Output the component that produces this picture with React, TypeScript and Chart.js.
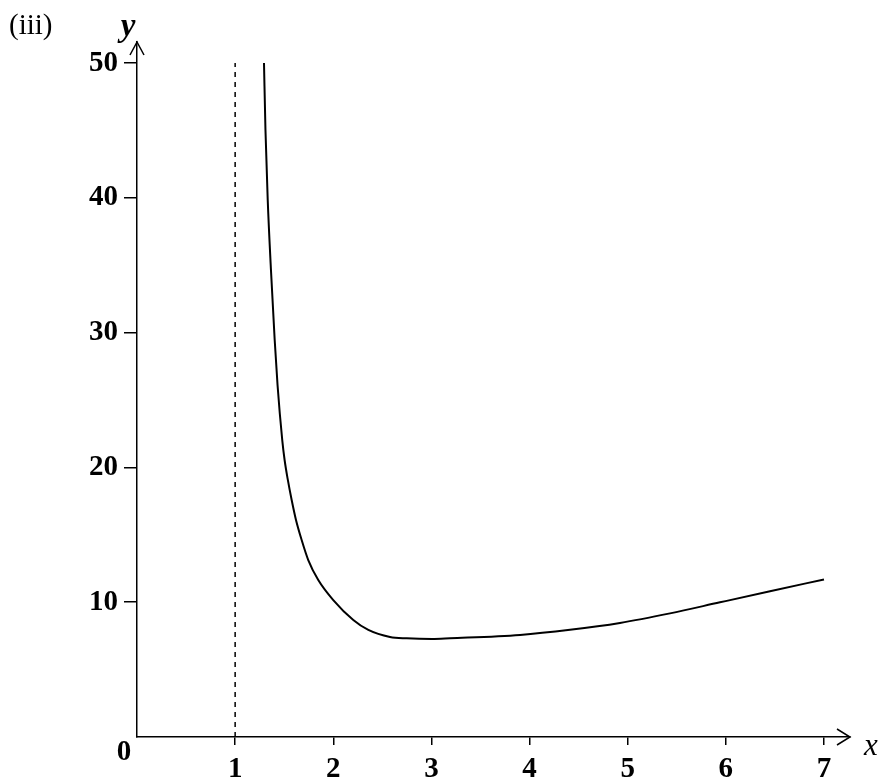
import React, { useEffect, useRef } from "react";
import { Chart, registerables } from "chart.js";

Chart.register(...registerables);

// Curve points
const curveX = [1.294, 1.309, 1.332, 1.365, 1.403, 1.432, 1.48, 1.504, 1.537, 1.576, 1.62, 1.678, 1.745, 1.847, 2.0, 2.204, 2.357, 2.578, 2.748, 3.006, 3.189, 3.903, 4.412, 4.921, 5.431, 5.94, 6.45, 7.0];
const curveY = [50, 45.03, 39.84, 34.64, 29.45, 26.11, 22.03, 20.55, 19.07, 17.58, 16.1, 14.61, 13.13, 11.65, 10.16, 8.68, 7.94, 7.42, 7.32, 7.27, 7.32, 7.57, 7.95, 8.46, 9.17, 9.99, 10.81, 11.69];

// Vertical asymptote x = 1 (dashed)
const asymptoteX = [1, 1];
const asymptoteY = [0, 50];

const xTicks = [1, 2, 3, 4, 5, 6, 7];
const yTicks = [10, 20, 30, 40, 50];

const X_MIN = 0;
const X_MAX = 7.265;
const Y_MIN = 0;
const Y_MAX = 51.56;

const FONT = "'Liberation Serif', 'Times New Roman', serif";

const decorations = {
  id: "decorations",
  afterDraw(chart: any) {
    const ctx = chart.ctx;
    const xs = chart.scales.x;
    const ys = chart.scales.y;
    const ox = xs.getPixelForValue(0);
    const oy = ys.getPixelForValue(0);
    const xEnd = xs.getPixelForValue(X_MAX);
    const yEnd = ys.getPixelForValue(Y_MAX);
    ctx.save();
    ctx.strokeStyle = "#000";
    ctx.lineWidth = 1.5;
    ctx.lineJoin = "miter";
    // x arrow
    ctx.beginPath();
    ctx.moveTo(xEnd - 13, oy - 8);
    ctx.lineTo(xEnd, oy);
    ctx.lineTo(xEnd - 13, oy + 8);
    ctx.stroke();
    // y arrow
    ctx.beginPath();
    ctx.moveTo(ox - 7, yEnd + 13);
    ctx.lineTo(ox, yEnd);
    ctx.lineTo(ox + 7, yEnd + 13);
    ctx.stroke();

    ctx.fillStyle = "#000";
    ctx.textAlign = "center";
    ctx.textBaseline = "middle";
    ctx.font = `bold 29px ${FONT}`;
    ctx.fillText("0", ox - 13, oy + 16);
    ctx.font = `italic 31px ${FONT}`;
    ctx.fillText("x", xEnd + 21, oy + 10);
    ctx.font = `italic bold 33px ${FONT}`;
    ctx.fillText("y", ox - 9, yEnd - 15);
    ctx.font = `29px ${FONT}`;
    ctx.textAlign = "left";
    ctx.fillText("(iii)", 9, 26);
    ctx.restore();
  },
};

export default function App() {
  const ref = useRef<HTMLCanvasElement | null>(null);

  useEffect(() => {
    if (!ref.current) return;
    const chart = new Chart(ref.current, {
      type: "line",
      data: {
        datasets: [
          {
            data: curveX.map((x, i) => ({ x, y: curveY[i] })),
            borderColor: "#000",
            borderWidth: 2,
            pointRadius: 0,
            fill: false,
            cubicInterpolationMode: "monotone",
          },
          {
            data: asymptoteX.map((x, i) => ({ x, y: asymptoteY[i] })),
            borderColor: "#000",
            borderWidth: 1.5,
            borderDash: [5, 5],
            pointRadius: 0,
            fill: false,
          },
        ],
      },
      options: {
        animation: false,
        responsive: false,
        layout: { padding: { top: 42, right: 29, bottom: 0, left: 0 } },
        plugins: { legend: { display: false }, tooltip: { enabled: false } },
        scales: {
          x: {
            type: "linear",
            min: X_MIN,
            max: X_MAX,
            afterBuildTicks: (s: any) => {
              s.ticks = xTicks.map((v) => ({ value: v }));
            },
            afterFit: (s: any) => {
              s.height = 46;
            },
            border: { display: true, color: "#000", width: 1.5 },
            grid: { drawOnChartArea: false, drawTicks: true, tickLength: 8, color: "#000", lineWidth: 1.5 },
            ticks: {
              color: "#000",
              font: { family: FONT, size: 29, weight: "bold" },
              padding: 7,
              maxRotation: 0,
              autoSkip: false,
            },
          },
          y: {
            type: "linear",
            min: Y_MIN,
            max: Y_MAX,
            afterBuildTicks: (s: any) => {
              s.ticks = yTicks.map((v) => ({ value: v }));
            },
            afterFit: (s: any) => {
              s.width = 137;
            },
            border: { display: true, color: "#000", width: 1.5 },
            grid: { drawOnChartArea: false, drawTicks: true, tickLength: 13, color: "#000", lineWidth: 1.5 },
            ticks: {
              color: "#000",
              font: { family: FONT, size: 29, weight: "bold" },
              padding: 6,
              autoSkip: false,
            },
          },
        },
      },
      plugins: [decorations],
    } as any);
    return () => chart.destroy();
  }, []);

  return (
    <div style={{ position: "fixed", left: 0, top: 0, width: 879, height: 783, background: "#fff" }}>
      <canvas ref={ref} width={879} height={783} style={{ display: "block" }} />
    </div>
  );
}
